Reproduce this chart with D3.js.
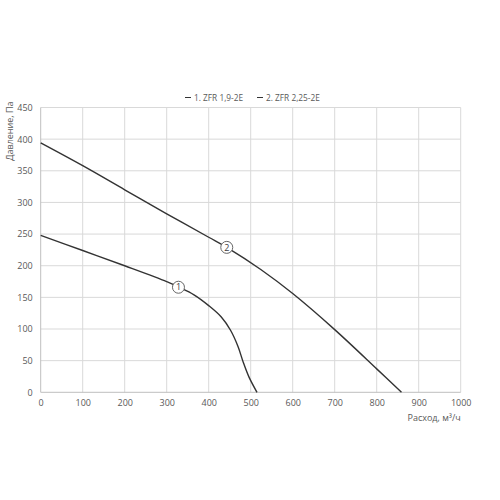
<!DOCTYPE html>
<html><head><meta charset="utf-8">
<script src="https://cdn.jsdelivr.net/npm/d3@7"></script>
<style>body{margin:0;background:#fff}svg{display:block}text{font-family:"Open Sans",sans-serif}</style>
</head><body><svg id="c" width="500" height="500"></svg>
<script>
const seriesNames = ["1. ZFR 1,9-2E", "2. ZFR 2,25-2E"];
const flow1 = [0,100,200,300,330,365,400,430,452,470,482,496,515];
const press1 = [248,224,200,175,166,154,137,119,98,72,48,24,0];
const flow2 = [0,100,200,300,400,443,524,600,700,800,859];
const press2 = [394,358,320,282,245,229,194,156,99,37,0];
const markerLabels = ["1","2"];
const markerFlow = [328,443];
const markerPress = [166,229];
const xTicks = [0,100,200,300,400,500,600,700,800,900,1000];
const yTicks = [0,50,100,150,200,250,300,350,400,450];
const xTitle = "Расход, м³/ч";
const yTitle = "Давление, Па";

const svg = d3.select("#c");
const x = d3.scaleLinear().domain([0,1000]).range([40.7,460.7]);
const y = d3.scaleLinear().domain([0,450]).range([392.3,107.5]);
const txt = "#595959", grid = "#d9d9d9";

const g = svg.append("g");
g.selectAll(".vg").data(xTicks.slice(1)).join("line")
 .attr("x1",d=>x(d)).attr("x2",d=>x(d)).attr("y1",y(0)).attr("y2",y(450))
 .attr("stroke",grid).attr("stroke-width",1);
g.selectAll(".hg").data(yTicks.slice(1)).join("line")
 .attr("x1",x(0)).attr("x2",x(1000)).attr("y1",d=>y(d)).attr("y2",d=>y(d))
 .attr("stroke",grid).attr("stroke-width",1);
g.append("line").attr("x1",x(0)).attr("x2",x(0)).attr("y1",y(0)).attr("y2",y(450)).attr("stroke","#bfbfbf");
g.append("line").attr("x1",x(0)).attr("x2",x(1000)).attr("y1",y(0)).attr("y2",y(0)).attr("stroke","#bfbfbf");

const xa = svg.append("g").attr("transform",`translate(0,${y(0)})`)
 .call(d3.axisBottom(x).tickValues(xTicks).tickSize(0).tickPadding(7).tickFormat(d3.format("d")));
const ya = svg.append("g").attr("transform",`translate(${x(0)},0)`)
 .call(d3.axisLeft(y).tickValues(yTicks).tickSize(0).tickPadding(8).tickFormat(d3.format("d")));
[xa,ya].forEach(a=>{a.select(".domain").remove();a.selectAll("text").attr("fill",txt).attr("font-size",9).attr("font-family","Open Sans, sans-serif");});

const line = d3.line().x(d=>x(d[0])).y(d=>y(d[1])).curve(d3.curveCatmullRom.alpha(0.5));
const d1 = flow1.map((f,i)=>[f,press1[i]]);
const d2 = flow2.map((f,i)=>[f,press2[i]]);
[d1,d2].forEach(d=>svg.append("path").datum(d).attr("d",line).attr("fill","none").attr("stroke","#333").attr("stroke-width",1.4));

markerLabels.forEach((l,i)=>{
  const cx=x(markerFlow[i]), cy=y(markerPress[i]);
  svg.append("circle").attr("cx",cx).attr("cy",cy).attr("r",6).attr("fill","#fff").attr("stroke","#666").attr("stroke-width",1);
  svg.append("text").attr("x",cx).attr("y",cy+3.2).attr("text-anchor","middle").attr("font-size",9).attr("fill","#404040").text(l);
});

svg.append("text").attr("x",x(1000)).attr("y",421).attr("text-anchor","end").attr("font-size",9).attr("fill",txt).text(xTitle);
svg.append("text").attr("transform",`translate(13,${y(450)-6}) rotate(-90)`).attr("text-anchor","end").attr("font-size",9).attr("fill",txt).text(yTitle);

const legX=[185,257];
seriesNames.forEach((n,i)=>{
  svg.append("line").attr("x1",legX[i]).attr("x2",legX[i]+6).attr("y1",97.5).attr("y2",97.5).attr("stroke","#333").attr("stroke-width",1);
  svg.append("text").attr("x",legX[i]+9).attr("y",100.5).attr("font-size",8.3).attr("fill",txt).text(n);
});
</script></body></html>
